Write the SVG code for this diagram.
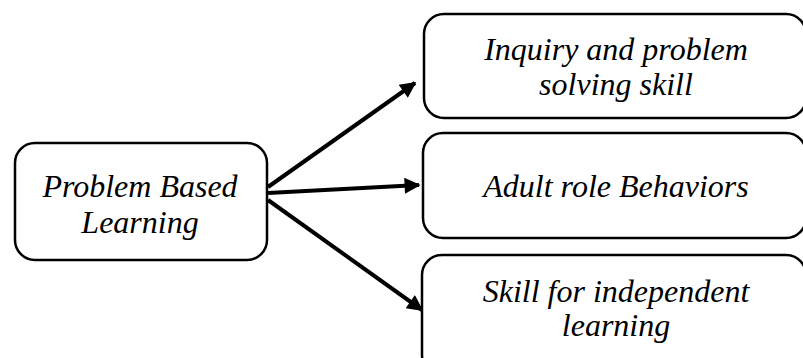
<svg xmlns="http://www.w3.org/2000/svg" width="803" height="358" viewBox="0 0 803 358">
  <style>
    .box { fill: #ffffff; stroke: #000000; stroke-width: 2.5; }
    .label { font-family: 'Liberation Serif', 'Times New Roman', Times, serif; font-style: italic; font-size: 32px; fill: #000000; text-anchor: middle; }
    .arrow { stroke: #000000; stroke-width: 4; fill: none; marker-end: url(#head); }
  </style>
  <defs>
    <marker id="head" viewBox="0 0 10 10" refX="9" refY="5" markerWidth="4.4" markerHeight="4" markerUnits="strokeWidth" orient="auto">
      <path d="M0,0 L10,5 L0,10 Z" fill="#000000"/>
    </marker>
  </defs>
  <rect width="803" height="358" fill="#ffffff"/>

  <g id="connectors">
    <line class="arrow" x1="268" y1="187" x2="415" y2="83"/>
    <line class="arrow" x1="268" y1="193" x2="419" y2="185"/>
    <line class="arrow" x1="268" y1="200" x2="422" y2="310"/>
  </g>

  <g id="problem-based-learning">
    <rect class="box" x="15" y="143" width="252" height="117" rx="20"/>
    <text class="label" x="140" y="197">Problem Based</text>
    <text class="label" x="140" y="233">Learning</text>
  </g>

  <g id="inquiry">
    <rect class="box" x="424" y="14" width="382" height="104" rx="20"/>
    <text class="label" x="616" y="60">Inquiry and problem</text>
    <text class="label" x="616" y="95">solving skill</text>
  </g>

  <g id="adult-role">
    <rect class="box" x="423" y="133" width="383" height="105" rx="20"/>
    <text class="label" x="616" y="197">Adult role Behaviors</text>
  </g>

  <g id="independent-learning">
    <rect class="box" x="422" y="255" width="384" height="120" rx="20"/>
    <text class="label" x="616" y="302">Skill for independent</text>
    <text class="label" x="616" y="336">learning</text>
  </g>
</svg>
